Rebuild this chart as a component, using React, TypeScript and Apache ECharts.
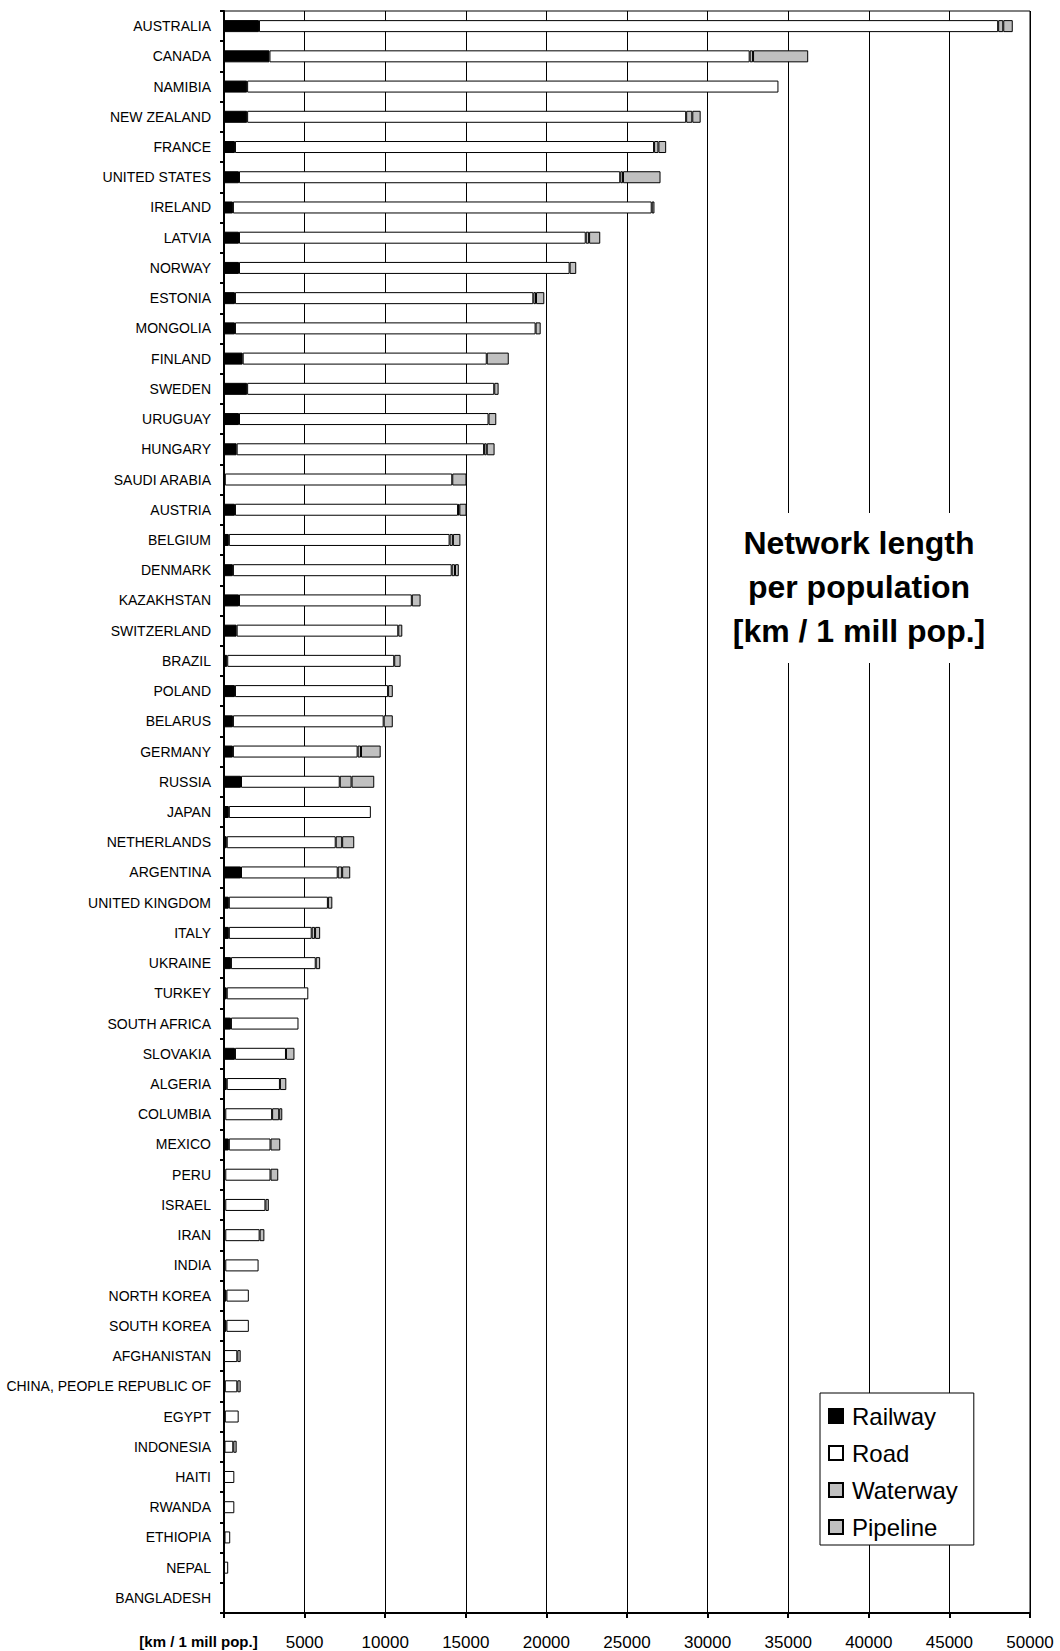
import React, { useEffect, useRef } from "react";
import * as echarts from "echarts";

const categories = [
  "AUSTRALIA", "CANADA", "NAMIBIA", "NEW ZEALAND", "FRANCE", "UNITED STATES", "IRELAND", "LATVIA", "NORWAY", "ESTONIA",
  "MONGOLIA", "FINLAND", "SWEDEN", "URUGUAY", "HUNGARY", "SAUDI ARABIA", "AUSTRIA", "BELGIUM", "DENMARK", "KAZAKHSTAN",
  "SWITZERLAND", "BRAZIL", "POLAND", "BELARUS", "GERMANY", "RUSSIA", "JAPAN", "NETHERLANDS", "ARGENTINA", "UNITED KINGDOM",
  "ITALY", "UKRAINE", "TURKEY", "SOUTH AFRICA", "SLOVAKIA", "ALGERIA", "COLUMBIA", "MEXICO", "PERU", "ISRAEL",
  "IRAN", "INDIA", "NORTH KOREA", "SOUTH KOREA", "AFGHANISTAN", "CHINA, PEOPLE REPUBLIC OF", "EGYPT", "INDONESIA", "HAITI", "RWANDA",
  "ETHIOPIA", "NEPAL", "BANGLADESH",
];

const railway = [
  2170, 2820, 1435, 1435, 680, 930, 553, 930, 930, 680,
  680, 1160, 1435, 930, 785, 50, 680, 300, 553, 930,
  785, 200, 680, 553, 553, 1055, 300, 170, 1055, 300,
  300, 430, 170, 430, 680, 170, 80, 300, 80, 80,
  80, 80, 150, 150, null, 50, 50, 30, null, null,
  30, null, null,
];

const road = [
  45855, 29790, 32960, 27235, 26000, 23650, 25980, 21510, 20510, 18510,
  18650, 15140, 15330, 15480, 15350, 14110, 13840, 13695, 13572, 10720,
  10025, 10360, 9500, 9352, 7737, 6125, 8810, 6760, 6000, 6145,
  5140, 5260, 5060, 4190, 3165, 3300, 2905, 2585, 2805, 2490,
  2130, 2065, 1390, 1390, 825, 775, 860, 545, 640, 640,
  355, 260, null,
];

const waterway = [
  316, 210, null, 380, 270, 170, 170, 210, 410, 165,
  315, 1365, 270, 480, 165, null, 80, 205, 205, 545,
  250, 395, 290, 565, 210, 735, null, 400, 275, 275,
  210, 275, null, null, 525, 395, 440, 605, 480, null,
  295, null, null, null, null, null, null, null, null, null,
  null, null, null,
];

const pipeline = [
  589, 3420, null, 520, 480, 2330, null, 690, null, 515,
  null, null, null, null, 485, 885, 445, 465, 235, null,
  null, null, null, null, 1220, 1405, null, 750, 500, null,
  315, null, null, null, null, null, 190, null, null, 210,
  null, null, null, null, 210, 210, null, 210, null, null,
  null, null, null,
];

const tickLabels = ["[km / 1 mill pop.]", "5000", "10000", "15000", "20000", "25000", "30000", "35000", "40000", "45000", "50000"];

const seriesNames = ["Railway", "Road", "Waterway", "Pipeline"];
const seriesColors = ["#000000", "#ffffff", "#c0c0c0", "#c0c0c0"];

const FONT = "'Liberation Sans', Arial, sans-serif";

export default function App() {
  const ref = useRef<HTMLDivElement>(null);

  useEffect(() => {
    document.body.style.margin = "0";
    if (!ref.current) return;
    const chart = echarts.init(ref.current, null, { renderer: "svg" });
    const dataSets = [railway, road, waterway, pipeline];
    const option = {
      animation: false,
      backgroundColor: "#ffffff",
      grid: {
        left: 224,
        right: 30,
        top: 11,
        bottom: 38,
        show: true,
        borderColor: "#000",
        borderWidth: 1,
        backgroundColor: "transparent",
      },
      legend: {
        data: seriesNames,
        orient: "vertical",
        left: 820,
        top: 1393,
        icon: "rect",
        itemWidth: 14,
        itemHeight: 14,
        itemGap: 13,
        padding: [11, 16, 6, 8],
        backgroundColor: "#ffffff",
        borderColor: "#000",
        borderWidth: 1,
        borderRadius: 0,
        selectedMode: false,
        textStyle: { fontSize: 24, color: "#000", fontFamily: FONT, padding: [0, 0, 0, 4] },
      },
      xAxis: {
        type: "value",
        min: 0,
        max: 50000,
        interval: 5000,
        axisLine: { show: true, lineStyle: { color: "#000", width: 2 } },
        axisTick: { show: true, length: 5, lineStyle: { color: "#000", width: 2 } },
        splitLine: { show: true, lineStyle: { color: "#000", width: 1 } },
        axisLabel: {
          margin: 21,
          color: "#000",
          fontSize: 17,
          fontFamily: FONT,
          formatter: (v: number) => {
            const i = Math.round(v / 5000);
            if (i === 0) return "{u|" + tickLabels[0] + "}";
            return tickLabels[i];
          },
          rich: {
            u: { fontSize: 15, fontWeight: "bold", color: "#000", fontFamily: FONT, padding: [0, 51, 0, 0] },
          },
        },
      },
      yAxis: {
        type: "category",
        data: categories,
        inverse: true,
        axisLine: { show: true, lineStyle: { color: "#000", width: 2 } },
        axisTick: { show: true, length: 4, lineStyle: { color: "#000", width: 2 } },
        splitLine: { show: false },
        axisLabel: { margin: 13, color: "#000", fontSize: 14, fontFamily: FONT, interval: 0 },
      },
      series: seriesNames.map((name, k) => ({
        name,
        type: "bar",
        stack: "total",
        barWidth: 12,
        data: dataSets[k].map((v) => (v === null ? "-" : v)),
        itemStyle: { color: seriesColors[k], borderColor: "#000", borderWidth: 1 },
        emphasis: { disabled: true },
      })),
      graphic: [
        {
          type: "rect",
          z: 100,
          shape: { x: 715, y: 513, width: 285, height: 150 },
          style: { fill: "#ffffff" },
        },
        {
          type: "text",
          z: 101,
          x: 859,
          y: 587,
          style: {
            text: "Network length\nper population\n[km / 1 mill pop.]",
            fontSize: 32,
            fontWeight: "bold",
            fontFamily: FONT,
            fill: "#000",
            lineHeight: 44,
            align: "center",
            verticalAlign: "middle",
          },
        },
      ],
    };
    chart.setOption(option as any);
    return () => chart.dispose();
  }, []);

  return <div ref={ref} style={{ width: 1060, height: 1651 }} />;
}
